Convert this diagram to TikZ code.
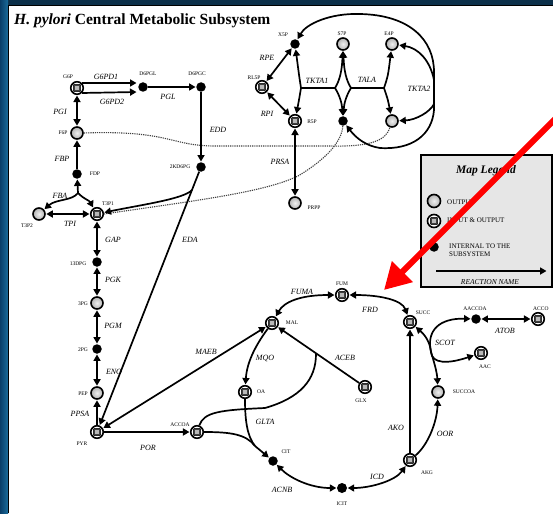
\documentclass[tikz,border=0pt]{standalone}
\usepackage{fontspec}
\setmainfont{Liberation Serif}
\usetikzlibrary{arrows.meta,calc}
\definecolor{navyA}{RGB}{12,48,74}
\definecolor{blueA}{RGB}{10,62,104}
\definecolor{blueB}{RGB}{26,108,156}
\definecolor{legfill}{RGB}{230,230,230}
\definecolor{pureRed}{RGB}{255,0,0}
\begin{document}
\begin{tikzpicture}[x=1pt,y=-1pt,
  ion/.style={circle, draw, line width=1.6pt, fill=white, minimum size=12.5pt, inner sep=0pt,
    path picture={\draw[line width=0.5pt, fill=gray!50!black, rounded corners=0.8pt]
      ([shift={(-3.6pt,-3.6pt)}]path picture bounding box.center) rectangle ([shift={(3.6pt,3.6pt)}]path picture bounding box.center);
      \fill[gray!55] ([shift={(-1.6pt,-1.6pt)}]path picture bounding box.center) rectangle ([shift={(1.6pt,1.6pt)}]path picture bounding box.center);}},
  outn/.style={circle, draw, line width=1.6pt, minimum size=12pt, inner sep=0pt, inner color=gray!12, outer color=gray!60},
  intn/.style={circle, fill=black, minimum size=9.5pt, inner sep=0pt},
  lab/.style={font=\fontsize{5.5}{6}\selectfont, inner sep=0pt},
  rxn/.style={font=\fontsize{8}{9}\selectfont\itshape, inner sep=0.5pt},
  ln/.style={line width=1.7pt},
  ar/.style={ln, -{Triangle[length=6.5pt,width=7pt]}, shorten >=0.5pt},
  bar/.style={ln, {Triangle[length=6.5pt,width=7pt]}-{Triangle[length=6.5pt,width=7pt]}, shorten >=0.5pt, shorten <=0.5pt},
  dotl/.style={line width=1.1pt, black!75, dash pattern=on 1.2pt off 1pt},
  legtxt/.style={font=\fontsize{7}{7.5}\selectfont, inner sep=0pt, anchor=west, align=left}
]
\useasboundingbox (0,0) rectangle (553,513);
\clip (0,0) rectangle (553,513);
% frame
\fill[navyA] (0,0) rectangle (553,6);
\shade[left color=blueA, right color=blueB] (0,0) rectangle (8,513);
\fill[white] (9,6) rectangle (553,513);
\draw[black, line width=1.2pt] (8.6,513) -- (8.6,5.6) -- (553,5.6);

\node[anchor=base west, font=\fontsize{15.5}{17}\selectfont\bfseries, inner sep=0pt] (title) at (14,25) {\textit{H. pylori} Central Metabolic Subsystem};

% ---------- nodes ----------
\node[ion]  (g6p)   at (77,88) {};
\node[intn] (d6pgl) at (143,87) {};
\node[intn] (d6pgc) at (201,87) {};
\node[outn] (f6p)   at (77,133) {};
\node[intn] (fdp)   at (77,174) {};
\node[intn] (kd)    at (201,167) {};
\node[ion]  (t3p1)  at (97,214) {};
\node[outn] (t3p2)  at (39,214) {};
\node[intn] (dpg)   at (97,262) {};
\node[outn] (pg3)   at (97,303) {};
\node[intn] (pg2)   at (97,349) {};
\node[outn] (pep)   at (97,393) {};
\node[ion]  (pyr)   at (97,432) {};
\node[ion]  (accoa) at (197,432) {};
\node[ion]  (mal)   at (272,323) {};
\node[ion]  (fum)   at (342,295) {};
\node[ion]  (succ)  at (410,322) {};
\node[intn] (aaccoa) at (476,319) {};
\node[ion]  (acco)  at (538,319) {};
\node[ion]  (aac)   at (481,353) {};
\node[outn] (succoa) at (438,392) {};
\node[ion]  (oa)    at (245,392) {};
\node[ion]  (glx)   at (365,387) {};
\node[intn] (cit)   at (273,461) {};
\node[intn, minimum width=8pt, minimum height=10pt, inner sep=0pt] (icit) at (342,488) {};
\node[ion]  (akg)   at (410,460) {};
\node[intn] (x5p)   at (295,44) {};
\node[outn] (s7p)   at (343,44) {};
\node[outn] (e4p)   at (392,44) {};
\node[ion]  (rl5p)  at (262,87) {};
\node[ion]  (r5p)   at (295,121) {};
\node[intn] (g3p)   at (343,121) {};
\node[outn] (f6pb)  at (392,121) {};
\node[outn] (prpp)  at (295,203) {};

% ---------- species labels ----------
\node[lab] at (68,77) {G6P};
\node[lab] at (148,74) {D6PGL};
\node[lab] at (197,74) {D6PGC};
\node[lab] at (63,133) {F6P};
\node[lab] at (95,174) {FDP};
\node[lab] at (180,167) {2KD6PG};
\node[lab] at (108,204) {T3P1};
\node[lab] at (27,226) {T3P2};
\node[lab] at (78,264) {13DPG};
\node[lab] at (83,304) {3PG};
\node[lab] at (83,350) {2PG};
\node[lab] at (83,394) {PEP};
\node[lab] at (82,444) {PYR};
\node[lab] at (180,425) {ACCOA};
\node[lab] at (292,323) {MAL};
\node[lab] at (342,284) {FUM};
\node[lab] at (423,313) {SUCC};
\node[lab] at (475,309) {AACCOA};
\node[lab, anchor=west] at (533,309) {ACCO};
\node[lab] at (485,367) {AAC};
\node[lab] at (464,392) {SUCCOA};
\node[lab] at (261,392) {OA};
\node[lab] at (361,401) {GLX};
\node[lab] at (286,452) {CIT};
\node[lab] at (342,504) {ICIT};
\node[lab] at (427,473) {AKG};
\node[lab] at (283,35) {X5P};
\node[lab] at (342,34) {S7P};
\node[lab] at (389,34) {E4P};
\node[lab] at (254,78) {RL5P};
\node[lab] at (312,122) {R5P};
\node[lab] at (314,208) {PRPP};

% ---------- dotted links ----------
\draw[dotl] (f6p.east) .. controls (170,130) and (170,146) .. (215,146) -- (330,146) .. controls (372,147) and (386,140) .. (f6pb);
\draw[dotl] (t3p1.east) .. controls (200,200) and (265,192) .. (298,176) .. controls (325,160) and (342,142) .. (g3p);

% ---------- glycolysis / ED ----------
\draw[ar] ($(g6p)+(5,-5)$) -- ($(d6pgl)+(-6,-4)$);
\draw[ar] ($(g6p)+(5,5)$) -- ($(d6pgl)+(-6,5)$);
\draw[ar] (d6pgl) -- (d6pgc);
\draw[ar] (d6pgc) -- (kd);
\draw[bar] (g6p) -- (f6p);
\draw[ar] (fdp) -- (f6p);
\coordinate (fbaj) at (78,193);
\draw[ar] (fbaj) -- (fdp);
\draw[ar] (fbaj) .. controls (72,201) and (56,199) .. (t3p2);
\draw[ar] (fbaj) .. controls (85,200) and (89,200) .. (t3p1);
\draw[bar] (t3p2) -- (t3p1);
\draw[bar] (t3p1) -- (dpg);
\draw[bar] (dpg) -- (pg3);
\draw[bar] (pg3) -- (pg2);
\draw[bar] (pg2) -- (pep);
\draw[ar] (pyr) -- (pep);
\draw[ar] (kd) -- (pyr);
\coordinate (edaj) at (192,190);
\draw[ar] (edaj) .. controls (184,199) and (140,205) .. (t3p1);

% ---------- TCA ----------
\draw[ar] (pyr) -- (accoa);
\draw[bar] (pyr) -- (mal);
\draw[ar] (mal) .. controls (258,342) and (247,360) .. (oa);
\draw[ar] (glx) -- (mal);
\coordinate (acebj) at (316,354);
\draw[ln] (accoa) .. controls (204,412) and (220,410) .. (265,408) .. controls (300,398) and (316,380) .. (acebj);
\coordinate (gltaj) at (255,446);
\draw[ln] (accoa) .. controls (230,432) and (246,434) .. (gltaj);
\draw[ln] (oa) .. controls (245,420) and (247,436) .. (gltaj);
\draw[ar] (gltaj) -- (cit);
\draw[bar] (mal) .. controls (284,302) and (300,295) .. (fum);
\draw[bar] (fum) .. controls (380,295) and (402,300) .. (succ);
\draw[ar] (akg) -- (succ);
\draw[ar] (akg) .. controls (428,445) and (437,422) .. (succoa);
\coordinate (scotj) at (431,352);
\draw[ar] (scotj) .. controls (430,342) and (425,335) .. (succ);
\draw[ar] (scotj) .. controls (434,362) and (437,372) .. (succoa);
\draw[ar] (scotj) .. controls (426,330) and (440,318) .. (aaccoa);
\draw[ar] (scotj) .. controls (432,364) and (448,364) .. (aac);
\draw[bar] (aaccoa) -- (acco);
\draw[bar] (icit) .. controls (370,488) and (395,481) .. (akg);
\draw[bar] (cit) .. controls (290,478) and (310,488) .. (icit);

% ---------- pentose phosphate ----------
\draw[bar] (x5p) -- (rl5p);
\draw[bar] (rl5p) -- (r5p);
\draw[bar] (r5p) -- (prpp);
\coordinate (L1) at (301,88);
\coordinate (L2) at (335,88);
\coordinate (R2) at (351,88);
\coordinate (R1) at (384,88);
\draw[ln] (L1) -- (L2);
\draw[ln] (R2) -- (R1);
\draw[ar] (L1) .. controls (299,75) .. (x5p);
\draw[ar] (L1) .. controls (299,100) .. (r5p);
\draw[ar] (L2) .. controls (340,80) and (342,70) .. (s7p);
\draw[ar] (R2) .. controls (346,80) and (344,70) .. (s7p);
\draw[ar] (L2) .. controls (340,96) and (342,104) .. (g3p);
\draw[ar] (R2) .. controls (346,96) and (344,104) .. (g3p);
\draw[ar] (R1) .. controls (388,76) .. (e4p);
\draw[ar] (R1) .. controls (388,100) .. (f6pb);
\coordinate (tkA) at (434,72);
\coordinate (tkB) at (434,110);
\draw[ln] (tkA) -- (tkB);
\draw[ar] (tkA) .. controls (434,40) and (410,15) .. (360,14) .. controls (330,13) and (306,24) .. (x5p);
\draw[ar] ($(tkA)+(0,8)$) .. controls (430,60) and (418,48) .. (e4p);
\draw[ar] ($(tkB)+(0,-6)$) .. controls (430,112) and (416,120) .. (f6pb);
\draw[ar] (tkB) .. controls (432,135) and (412,150) .. (380,148) .. controls (366,146) and (356,138) .. (g3p);

% ---------- reaction labels ----------
\node[rxn] at (106,77) {G6PD1};
\node[rxn] at (112,102) {G6PD2};
\node[rxn] at (168,97) {PGL};
\node[rxn] at (60,112) {PGI};
\node[rxn] at (218,130) {EDD};
\node[rxn] at (62,159) {FBP};
\node[rxn] at (60,196) {FBA};
\node[rxn] at (70,224) {TPI};
\node[rxn] at (113,240) {GAP};
\node[rxn] at (113,280) {PGK};
\node[rxn] at (113,326) {PGM};
\node[rxn] at (114,372) {ENO};
\node[rxn] at (80,414) {PPSA};
\node[rxn] at (148,448) {POR};
\node[rxn] at (190,240) {EDA};
\node[rxn] at (206,352) {MAEB};
\node[rxn] at (265,358) {MQO};
\node[rxn] at (345,358) {ACEB};
\node[rxn] at (265,422) {GLTA};
\node[rxn] at (302,292) {FUMA};
\node[rxn] at (370,310) {FRD};
\node[rxn] at (445,343) {SCOT};
\node[rxn] at (505,331) {ATOB};
\node[rxn] at (396,428) {AKO};
\node[rxn] at (445,434) {OOR};
\node[rxn] at (377,477) {ICD};
\node[rxn] at (282,490) {ACNB};
\node[rxn] at (267,58) {RPE};
\node[rxn] at (267,114) {RPI};
\node[rxn] at (317,81) {TKTA1};
\node[rxn] at (367,80) {TALA};
\node[rxn, fill=white] at (419,89) {TKTA2};
\node[rxn] at (280,162) {PRSA};

% ---------- legend ----------
\draw[line width=2pt, fill=legfill] (421,155) rectangle (552,287);
\node[font=\fontsize{11.5}{13}\selectfont\bfseries\itshape, inner sep=0pt] (legtitle) at (486,171) {Map Legend};
\node[outn, minimum width=11pt, minimum height=13pt] (legout) at (434,201) {};
\node[legtxt] (legouttxt) at (447,202) {OUTPUT};
\node[ion, minimum width=11pt, minimum height=13pt] (legio) at (434,221) {};
\node[legtxt] (legiotxt) at (447,220) {INPUT \& OUTPUT};
\node[intn] (legint) at (434,247) {};
\node[legtxt] (leginttxt) at (449,250) {INTERNAL TO THE\\SUBSYSTEM};
\coordinate (legA) at (436,271);
\coordinate (legB) at (547,271);
\draw[ar] (legA) -- (legB);
\node[font=\fontsize{7.5}{8}\selectfont\itshape, inner sep=0pt] (legrxn) at (490,282) {REACTION NAME};

% ---------- red pointer ----------
\coordinate (redS) at (566,108);
\coordinate (redT) at (384,290);
\draw[pureRed, line width=6pt, -{Triangle[length=26pt,width=28pt]}] (redS) -- (redT);
\end{tikzpicture}
\end{document}
